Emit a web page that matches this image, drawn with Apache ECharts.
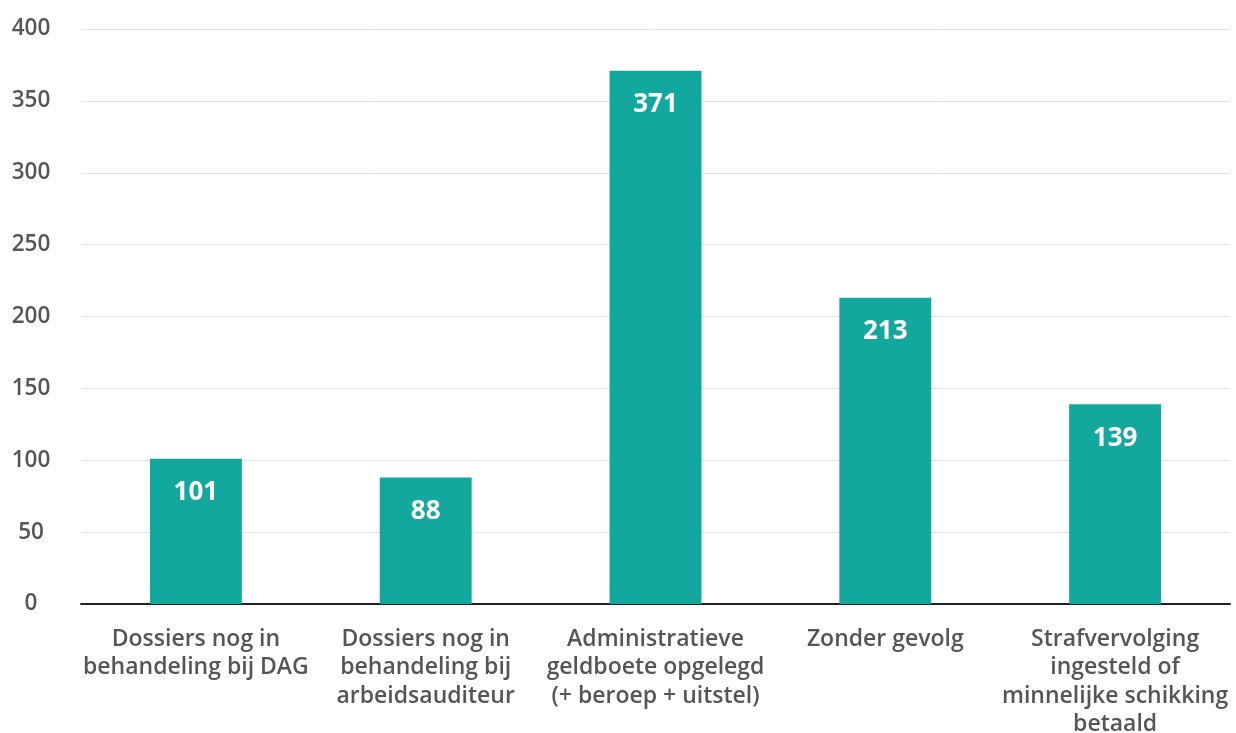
<!DOCTYPE html>
<html>
<head>
<meta charset="utf-8">
<script src="https://cdn.jsdelivr.net/npm/echarts@6/dist/echarts.min.js"></script>
<style>
  html, body { margin: 0; padding: 0; background: #fff; }
  #main { width: 1236px; height: 733px; }
</style>
</head>
<body>
<div id="main"></div>
<script>
const categories = [
    'Dossiers nog in\nbehandeling bij DAG',
    'Dossiers nog in\nbehandeling bij\narbeidsauditeur',
    'Administratieve\ngeldboete opgelegd\n(+ beroep + uitstel)',
    'Zonder gevolg',
    'Strafvervolging\ningesteld of\nminnelijke schikking\nbetaald'
];
const values = [101, 88, 371, 213, 139];
const yTicks = { min: 0, max: 400, interval: 50 };

const chart = echarts.init(document.getElementById('main'));
const font = '"Open Sans", sans-serif';

chart.setOption({
    animation: false,
    textStyle: { fontFamily: font },
    grid: { left: 81, right: 6, top: 29, bottom: 129, outerBoundsMode: 'none' },
    xAxis: {
        type: 'category',
        data: categories,
        axisLine: { lineStyle: { color: '#222', width: 2 } },
        axisTick: { show: false },
        axisLabel: {
            interval: 0,
            margin: 21,
            fontSize: 23,
            fontWeight: 600,
            lineHeight: 28.5,
            color: '#555',
            fontFamily: font
        }
    },
    yAxis: {
        type: 'value',
        min: yTicks.min,
        max: yTicks.max,
        interval: yTicks.interval,
        axisLine: { show: false },
        axisTick: { show: false },
        splitLine: { lineStyle: { color: '#e2e2e2', width: 1 } },
        axisLabel: {
            align: 'center',
            margin: 50,
            fontSize: 22.5,
            fontWeight: 600,
            color: '#555',
            fontFamily: font
        }
    },
    series: [{
        type: 'bar',
        data: values,
        barWidth: '40%',
        itemStyle: { color: '#13a89e' },
        label: {
            show: true,
            position: 'insideTop',
            distance: 21,
            color: '#fff',
            fontSize: 26,
            fontWeight: 700,
            fontFamily: font
        }
    }]
});

window.addEventListener('resize', () => {
    chart.resize();
});
</script>
</body>
</html>
